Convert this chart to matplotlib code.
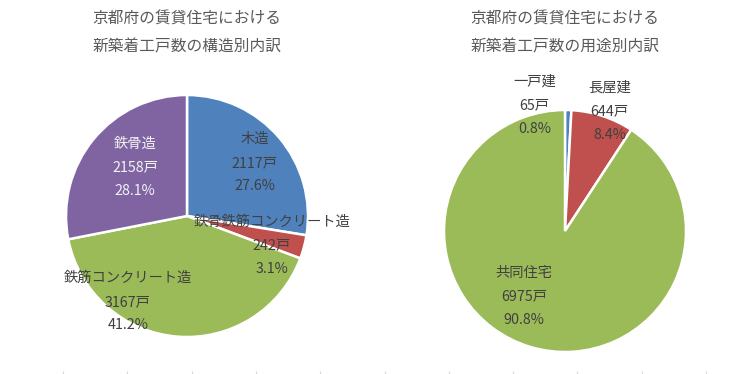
import numpy as np
import matplotlib
matplotlib.use('Agg')
import matplotlib.pyplot as plt

plt.rcParams['font.family'] = ['Noto Sans CJK JP', 'DejaVu Sans']

# left pie: structure breakdown
struct_names = ['木造', '鉄骨鉄筋コンクリート造', '鉄筋コンクリート造', '鉄骨造']
struct_units = [2117, 242, 3167, 2158]
struct_pct = [27.6, 3.1, 41.2, 28.1]

# right pie: usage breakdown
use_names = ['一戸建', '長屋建', '共同住宅']
use_units = [65, 644, 6975]
use_pct = [0.8, 8.4, 90.8]

title_left = '京都府の賃貸住宅における\n新築着工戸数の構造別内訳'
title_right = '京都府の賃貸住宅における\n新築着工戸数の用途別内訳'

blue, red, green, purple = '#4F81BD', '#C0504D', '#9BBB59', '#8064A2'
txt = '#404040'

W, H = 740, 374
fig = plt.figure(figsize=(W/100, H/100), dpi=100)

L = 1.3
S = 2*121*L  # axes size in px so that radius = 121 px


def pie_axes(cx, cy):
    ax = fig.add_axes([(cx - S/2)/W, (H - cy - S/2)/H, S/W, S/H])
    return ax


def fix_axes(ax):
    ax.set_xlim(-L, L)
    ax.set_ylim(-L, L)
    ax.set_aspect('equal')
    ax.axis('off')


def draw_labels(ax, names, units, pct, offs, colors):
    for n, u, p, (dx, dy), c in zip(names, units, pct, offs, colors):
        ax.text(dx, dy, '%s\n%d戸\n%.1f%%' % (n, u, p), ha='center', va='center',
                fontsize=10.3, color=c, linespacing=1.87, clip_on=False)


ax1 = pie_axes(187, 216)
ax1.pie(struct_units, colors=[blue, red, green, purple], startangle=90, counterclock=False,
        radius=1, wedgeprops=dict(edgecolor='white', linewidth=1.8))
fix_axes(ax1)
draw_labels(ax1, struct_names, struct_units, struct_pct,
            [(0.56, 0.44), (0.70, -0.24), (-0.49, -0.71), (-0.43, 0.40)],
            [txt, txt, txt, '#F2F2F2'])

ax2 = pie_axes(565, 231)
ax2.pie(use_units, colors=[blue, red, green], startangle=90, counterclock=False,
        radius=1, wedgeprops=dict(edgecolor='white', linewidth=1.8))
fix_axes(ax2)
draw_labels(ax2, use_names, use_units, use_pct,
            [(-0.25, 1.04), (0.37, 0.99), (-0.34, -0.54)],
            [txt, txt, txt])

fig.text(187/W, 1 - 33/H, title_left, ha='center', va='center', fontsize=11.3,
         color='#595959', linespacing=1.9)
fig.text(565/W, 1 - 33/H, title_right, ha='center', va='center', fontsize=11.3,
         color='#595959', linespacing=1.9)

# faint tick marks along the bottom edge
axb = fig.add_axes([0, 0, 1, 0.01])
axb.set_xlim(0, W)
axb.set_xticks(np.arange(63, W, 64.3))
axb.tick_params(axis='x', length=2, color='#D9D9D9', labelbottom=False, direction='in')
axb.set_yticks([])
for s in axb.spines.values():
    s.set_visible(False)
axb.patch.set_alpha(0)

fig.savefig('out.png', dpi=100)
